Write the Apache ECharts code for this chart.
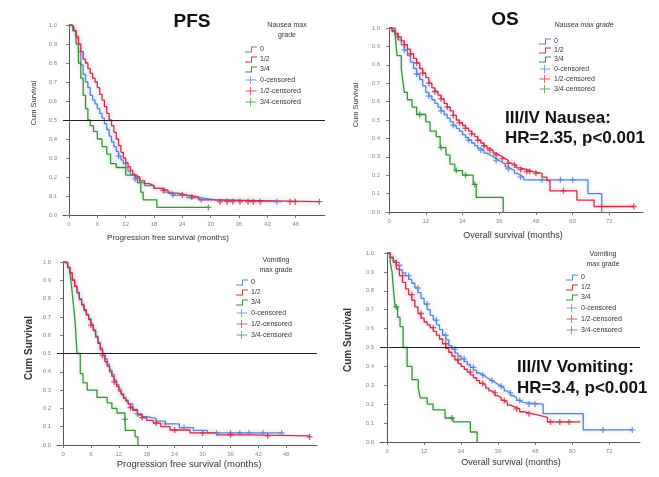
<!DOCTYPE html>
<html>
<head>
<meta charset="utf-8">
<script src="https://cdn.jsdelivr.net/npm/echarts@6/dist/echarts.min.js"></script>
<style>
  html, body { margin: 0; padding: 0; background: #fff; }
  #main { width: 659px; height: 477px; }
</style>
</head>
<body>
<div id="main"></div>
<script>
// tick labels
const pfsTicks = [0, 6, 12, 18, 24, 30, 36, 42, 48];
const osTicks = [0, 12, 24, 36, 48, 60, 72];
const groupNames = ['0', '1/2', '3/4'];
const censNames = ['0-censored', '1/2-censored', '3/4-censored'];

// PFS by nausea grade  [months, survival]
const pfsNausea0 = [[0,1],[0.5,0.99],[1,0.97],[1.5,0.93],[2,0.86],[2.5,0.79],[3,0.74],[3.5,0.7],[4,0.67],[4.5,0.63],[5,0.605],[5.5,0.585],[6,0.56],[6.5,0.535],[7,0.51],[7.5,0.48],[8,0.45],[8.5,0.415],[9,0.385],[9.5,0.36],[10,0.335],[10.5,0.31],[11,0.29],[11.5,0.27],[12,0.25],[12.5,0.23],[13,0.21],[14,0.19],[15,0.17],[16,0.155],[18,0.14],[20,0.12],[22,0.105],[25,0.09],[28,0.08],[31,0.07],[45,0.07]];
const pfsNausea12 = [[0,1],[0.5,0.99],[1,0.97],[1.5,0.94],[2,0.9],[2.5,0.86],[3,0.82],[3.5,0.8],[4,0.77],[4.5,0.745],[5,0.72],[5.5,0.7],[6,0.67],[6.5,0.635],[7,0.605],[7.5,0.57],[8,0.535],[8.5,0.5],[9,0.47],[9.5,0.435],[10,0.4],[10.5,0.365],[11,0.33],[11.5,0.3],[12,0.275],[12.5,0.255],[13,0.235],[13.5,0.215],[14,0.2],[15,0.18],[16,0.165],[17,0.155],[18,0.14],[19.5,0.13],[21,0.115],[23,0.105],[25,0.095],[27.5,0.08],[30.5,0.07],[53,0.07]];
const pfsNausea34 = [[0,1],[0.8,0.97],[1.5,0.9],[2,0.8],[2.5,0.72],[3,0.63],[3.5,0.56],[4,0.5],[4.5,0.47],[5.2,0.44],[6,0.4],[7,0.36],[8,0.32],[8.8,0.27],[10,0.25],[12,0.21],[14.5,0.17],[15.2,0.12],[15.7,0.08],[18.6,0.04],[29.5,0.04]];
const pfsNauseaCens0 = [[10.5,0.31],[14,0.19],[22,0.105],[28,0.08],[44,0.07]];
const pfsNauseaCens12 = [[20,0.13],[24,0.105],[26,0.095],[32,0.07],[33.5,0.07],[34.7,0.07],[36.2,0.07],[37.9,0.07],[39,0.07],[40.5,0.07],[46.8,0.07],[47.9,0.07],[53,0.07]];
const pfsNauseaCens34 = [[29.5,0.04]];

// OS by nausea grade
const osNausea0 = [[0,1],[1,0.98],[2,0.96],[3,0.935],[4,0.91],[5,0.88],[6,0.85],[7,0.815],[8,0.78],[9,0.75],[10,0.72],[11,0.685],[12,0.65],[13,0.63],[14,0.61],[15,0.59],[16,0.57],[17,0.55],[18,0.53],[19,0.51],[20,0.49],[21,0.47],[22,0.455],[23,0.44],[24,0.42],[25,0.405],[26,0.39],[27,0.375],[28,0.36],[29,0.345],[30,0.335],[31,0.32],[32,0.31],[33,0.3],[34,0.29],[35,0.28],[36,0.27],[37,0.26],[38,0.245],[39,0.235],[40,0.225],[41,0.21],[42,0.2],[43,0.19],[44,0.175],[65,0.1],[69.5,0]];
const osNausea12 = [[0,1],[1,0.985],[2,0.97],[3,0.95],[4,0.93],[5,0.91],[6,0.885],[7,0.86],[8,0.835],[9,0.81],[10,0.78],[11,0.755],[12,0.73],[13,0.7],[14,0.675],[15,0.655],[16,0.635],[17,0.615],[18,0.59],[19,0.57],[20,0.55],[21,0.525],[22,0.5],[23,0.485],[24,0.47],[25,0.455],[26,0.44],[27,0.425],[28,0.41],[29,0.39],[30,0.375],[31,0.36],[32,0.345],[33,0.335],[34,0.32],[35,0.31],[36,0.3],[37,0.29],[38,0.28],[39,0.265],[40,0.255],[41.5,0.24],[43,0.23],[45,0.22],[47,0.21],[50,0.19],[51.6,0.17],[52.6,0.115],[61.4,0.065],[67,0.03],[80,0.03]];
const osNausea34 = [[0,1],[2,0.96],[2.6,0.85],[4,0.78],[4.5,0.71],[5,0.65],[6,0.61],[7.5,0.57],[9,0.53],[12,0.49],[13.4,0.44],[15.4,0.41],[16.7,0.35],[18.6,0.31],[19.9,0.26],[21.5,0.225],[24,0.2],[27.5,0.15],[28.5,0.08],[37.3,0]];
const osNauseaCens0 = [[5,0.88],[9,0.75],[13,0.63],[17,0.55],[21,0.47],[26,0.39],[30,0.335],[35,0.28],[39,0.235],[43,0.19],[50,0.175],[56,0.175],[60,0.175]];
const osNauseaCens12 = [[3,0.95],[5,0.91],[7,0.86],[9,0.81],[11,0.755],[13,0.7],[15,0.655],[17,0.615],[19,0.57],[21,0.525],[23,0.485],[25,0.455],[27,0.425],[29,0.39],[31,0.36],[33,0.335],[35,0.31],[37,0.29],[39,0.265],[41,0.255],[43,0.23],[45,0.22],[46,0.22],[48,0.21],[57,0.115],[80,0.03]];
const osNauseaCens34 = [[10,0.53],[17,0.35],[22,0.225],[25,0.2],[28,0.15]];

// PFS by vomiting grade
const pfsVomit0 = [[0,1],[0.5,0.99],[1,0.97],[1.5,0.94],[2,0.905],[2.5,0.87],[3,0.835],[3.5,0.8],[4,0.77],[4.5,0.74],[5,0.715],[5.5,0.69],[6,0.66],[6.5,0.63],[7,0.595],[7.5,0.56],[8,0.53],[8.5,0.5],[9,0.47],[9.5,0.44],[10,0.41],[10.5,0.385],[11,0.355],[11.5,0.33],[12,0.305],[12.5,0.28],[13,0.26],[13.5,0.245],[14,0.225],[15,0.195],[16,0.17],[17,0.155],[18,0.145],[20,0.13],[22,0.115],[25,0.095],[28,0.08],[31,0.066],[47,0.066]];
const pfsVomit12 = [[0,1],[0.5,0.99],[1,0.97],[1.5,0.94],[2,0.9],[2.5,0.865],[3,0.83],[3.5,0.795],[4,0.765],[4.5,0.735],[5,0.71],[5.5,0.685],[6,0.655],[6.5,0.625],[7,0.59],[7.5,0.555],[8,0.52],[8.5,0.49],[9,0.455],[9.5,0.43],[10,0.4],[10.5,0.375],[11,0.345],[11.5,0.32],[12,0.295],[12.5,0.275],[13,0.255],[13.5,0.24],[14,0.225],[14.5,0.205],[15,0.19],[16,0.165],[17,0.15],[18,0.135],[19.4,0.12],[21,0.1],[23,0.082],[27.3,0.066],[33,0.055],[40,0.05],[53,0.044]];
const pfsVomit34 = [[0,1],[1,0.97],[1.5,0.94],[1.9,0.85],[2.3,0.75],[2.6,0.67],[3,0.5],[3.7,0.39],[4.3,0.34],[5.2,0.3],[7.3,0.26],[9.5,0.23],[10.5,0.2],[11.6,0.175],[13.3,0.14],[13.4,0.08],[15.5,0.044],[16.1,0]];
const pfsVomitCens0 = [[16,0.17],[22,0.115],[26,0.095],[33,0.066],[36,0.066],[38,0.066],[40,0.066],[43,0.066],[47,0.066]];
const pfsVomitCens12 = [[6,0.655],[8.5,0.49],[11,0.345],[14.5,0.205],[17,0.15],[20,0.12],[24,0.082],[30,0.066],[36,0.055],[44,0.05],[53,0.044]];
const pfsVomitCens34 = [[13.3,0.14]];

// OS by vomiting grade
const osVomit0 = [[0,1],[1,0.98],[2,0.96],[3,0.935],[4,0.91],[5,0.895],[6,0.88],[7,0.86],[8,0.84],[9,0.815],[10,0.79],[11,0.76],[12,0.73],[13,0.7],[14,0.67],[15,0.645],[16,0.62],[17,0.595],[18,0.565],[19,0.54],[20,0.51],[21,0.49],[22,0.47],[23,0.455],[24,0.44],[25,0.425],[26,0.41],[27,0.395],[28,0.38],[29,0.365],[30,0.355],[31,0.345],[32,0.335],[33,0.325],[34,0.315],[35,0.305],[36,0.295],[37,0.285],[38,0.27],[39,0.26],[40,0.245],[41,0.235],[42,0.22],[43,0.21],[44,0.2],[50.6,0.15],[63.6,0.064],[79.5,0.064]];
const osVomit12 = [[0,1],[1,0.975],[2,0.95],[3,0.915],[4,0.88],[5,0.845],[6,0.81],[7,0.78],[8,0.75],[9,0.715],[10,0.68],[11,0.655],[12,0.635],[13,0.62],[14,0.605],[15,0.585],[16,0.565],[17,0.545],[18,0.52],[19,0.495],[20,0.475],[21,0.455],[22,0.435],[23,0.415],[24,0.4],[25,0.385],[26,0.37],[27,0.355],[28,0.34],[29,0.325],[30,0.31],[31,0.3],[32,0.285],[33,0.27],[34,0.26],[35,0.245],[36,0.235],[37,0.22],[38,0.21],[39,0.195],[40,0.185],[41.5,0.175],[43,0.16],[44.5,0.15],[47,0.14],[49.7,0.13],[52,0.106],[62.7,0.106]];
const osVomit34 = [[0,1],[1,0.95],[1.6,0.9],[2.1,0.8],[2.6,0.715],[3.4,0.66],[4.2,0.61],[5.2,0.5],[6.5,0.4],[8.1,0.33],[10.1,0.29],[10.7,0.233],[13,0.2],[14.9,0.17],[18.8,0.127],[21.4,0.106],[27,0.053],[29.2,0]];
const osVomitCens0 = [[4,0.935],[7,0.88],[10,0.815],[13,0.73],[16,0.645],[19,0.565],[22,0.49],[25,0.44],[28,0.395],[31,0.355],[34,0.325],[37,0.295],[40,0.26],[43,0.22],[46,0.2],[48,0.2],[70,0.064],[79.5,0.064]];
const osVomitCens12 = [[3,0.95],[5,0.88],[8,0.78],[11,0.68],[15,0.605],[19,0.52],[23,0.435],[27,0.37],[31,0.31],[35,0.26],[38,0.22],[42,0.175],[46,0.15],[53,0.106],[56,0.106],[59,0.106]];
const osVomitCens34 = [[3,0.715],[21,0.127]];

const colors = ['#5b7fd6', '#cf2d4b', '#3b8f3b'];
const glow = ['rgba(120,200,235,0.6)', 'rgba(240,140,160,0.6)', 'rgba(140,210,140,0.5)'];
const font = 'Liberation Sans';

const stepIcon = 'path://M0,5 L6,5 L6,0 L12,0 L12,1 L7,1 L7,6 L0,6 Z';
const censIcon = 'path://M0,4 L5,4 L5,0 L6,0 L6,4 L12,4 L12,5 L6,5 L6,9 L5,9 L5,5 L0,5 Z';
const plusSymbol = 'path://M3.5,0 L5.5,0 L5.5,3.5 L9,3.5 L9,5.5 L5.5,5.5 L5.5,9 L3.5,9 L3.5,5.5 L0,5.5 L0,3.5 L3.5,3.5 Z';

// panel layout
const panels = [
  { key: 'A', grid: { left: 63, top: 25, width: 262, height: 190 }, min: -1.27, max: 54.2, ticks: pfsTicks,
    curves: [pfsNausea0, pfsNausea12, pfsNausea34], cens: [pfsNauseaCens0, pfsNauseaCens12, pfsNauseaCens34],
    half: true, legend: { left: 245, top: 46, gap: 3 } },
  { key: 'B', grid: { left: 386, top: 28, width: 257, height: 184 }, min: -1.0, max: 83, ticks: osTicks,
    curves: [osNausea0, osNausea12, osNausea34], cens: [osNauseaCens0, osNauseaCens12, osNauseaCens34],
    half: false, legend: { left: 539, top: 38, gap: 2 } },
  { key: 'C', grid: { left: 57, top: 262, width: 260, height: 183 }, min: -1.3, max: 54.6, ticks: pfsTicks,
    curves: [pfsVomit0, pfsVomit12, pfsVomit34], cens: [pfsVomitCens0, pfsVomitCens12, pfsVomitCens34],
    half: true, legend: { left: 236, top: 279, gap: 3 } },
  { key: 'D', grid: { left: 380, top: 253, width: 260, height: 189 }, min: -2.3, max: 82, ticks: osTicks,
    curves: [osVomit0, osVomit12, osVomit34], cens: [osVomitCens0, osVomitCens12, osVomitCens34],
    half: true, legend: { left: 566, top: 274, gap: 3 } }
];

let grids = [], xAxes = [], yAxes = [], series = [], legends = [];

panels.forEach(function (p, i) {
  grids.push(p.grid);
  xAxes.push({
    type: 'value', gridIndex: i, min: p.min, max: p.max,
    axisLine: { show: true, lineStyle: { color: '#555', width: 1 } },
    axisTick: { show: true, length: 3, customValues: p.ticks, lineStyle: { color: '#777' } },
    axisLabel: { customValues: p.ticks, fontSize: 6, color: '#888', fontFamily: font, margin: 6 },
    splitLine: { show: false }
  });
  yAxes.push({
    type: 'value', gridIndex: i, min: 0, max: 1, interval: 0.1,
    axisLine: { show: true, lineStyle: { color: '#555', width: 1 } },
    axisTick: { show: true, length: 3, lineStyle: { color: '#777' } },
    axisLabel: { fontSize: 6, color: '#888', fontFamily: font, margin: 6,
      formatter: function (v) { return v.toFixed(1); } },
    splitLine: { show: false }
  });

  // draw order: blue, green, red on top
  [0, 2, 1].forEach(function (g) {
    let s = {
      type: 'line', name: p.key + ':' + groupNames[g], data: p.curves[g], step: 'end',
      xAxisIndex: i, yAxisIndex: i, symbol: 'none', showSymbol: false, silent: true,
      color: colors[g], itemStyle: { color: colors[g] },
      lineStyle: { color: colors[g], width: 1.3, shadowBlur: 4, shadowColor: glow[g] },
      z: 3
    };
    if (p.half && g === 0) {
      s.markLine = {
        silent: true, symbol: 'none', label: { show: false },
        lineStyle: { color: '#222', type: 'solid', width: 1 },
        data: [{ yAxis: 0.5 }]
      };
    }
    series.push(s);
  });
  [0, 2, 1].forEach(function (g) {
    series.push({
      type: 'scatter', name: p.key + ':' + censNames[g], data: p.cens[g],
      xAxisIndex: i, yAxisIndex: i, symbol: plusSymbol, symbolSize: 6, silent: true,
      itemStyle: { color: colors[g] }, z: 4
    });
  });

  let items = [];
  groupNames.forEach(function (n) { items.push({ name: p.key + ':' + n, icon: stepIcon }); });
  censNames.forEach(function (n) { items.push({ name: p.key + ':' + n, icon: censIcon }); });
  legends.push({
    orient: 'vertical', left: p.legend.left, top: p.legend.top, padding: 0,
    itemWidth: 12, itemHeight: 8, itemGap: p.legend.gap, selectedMode: false,
    data: items,
    formatter: function (name) { return name.split(':')[1]; },
    textStyle: { fontSize: 7, color: '#333', fontFamily: font, padding: [0, 0, 0, -2] }
  });
});

// texts: titles, legend headers, annotations, axis titles
function txt(x, y, text, f, opts) {
  opts = opts || {};
  return {
    type: 'text', x: x, y: y, rotation: opts.rot || 0, silent: true,
    style: { text: text, font: f, fill: opts.fill || '#111', align: opts.align || 'center',
      verticalAlign: 'middle', lineHeight: opts.lh || 10 }
  };
}
const graphics = [
  txt(192, 22, 'PFS', 'bold 19px ' + font),
  txt(505, 20, 'OS', 'bold 19px ' + font),
  txt(287, 30, 'Nausea max\ngrade', '7px ' + font, { fill: '#333' }),
  txt(584, 25, 'Nausea max grade', 'italic 7px ' + font, { fill: '#333' }),
  txt(276, 265, 'Vomiting\nmax grade', '7px ' + font, { fill: '#333' }),
  txt(603, 259, 'Vomiting\nmax grade', '7px ' + font, { fill: '#333' }),
  txt(505, 118, 'III/IV Nausea:', 'bold 17px ' + font, { align: 'left' }),
  txt(505, 138, 'HR=2.35, p<0.001', 'bold 17px ' + font, { align: 'left' }),
  txt(517, 367, 'III/IV Vomiting:', 'bold 17px ' + font, { align: 'left' }),
  txt(517, 388, 'HR=3.4, p<0.001', 'bold 17px ' + font, { align: 'left' }),
  txt(34, 103, 'Cum Survival', '7.5px ' + font, { rot: Math.PI / 2, fill: '#333' }),
  txt(356, 105, 'Cum Survival', '7.5px ' + font, { rot: Math.PI / 2, fill: '#333' }),
  txt(29, 348, 'Cum Survival', 'bold 10px ' + font, { rot: Math.PI / 2, fill: '#333' }),
  txt(348, 340, 'Cum Survival', 'bold 10px ' + font, { rot: Math.PI / 2, fill: '#333' }),
  txt(168, 238, 'Progression free survival (months)', '8px ' + font, { fill: '#333' }),
  txt(513, 236, 'Overall survival (months)', '9px ' + font, { fill: '#333' }),
  txt(189, 464, 'Progression free survival (months)', '9.5px ' + font, { fill: '#333' }),
  txt(511, 463, 'Overall survival (months)', '9px ' + font, { fill: '#333' })
];

let chart = echarts.init(document.getElementById('main'), null, { renderer: 'canvas' });
chart.setOption({
  animation: false,
  backgroundColor: '#fff',
  grid: grids,
  xAxis: xAxes,
  yAxis: yAxes,
  legend: legends,
  series: series,
  graphic: graphics
});
</script>
</body>
</html>
